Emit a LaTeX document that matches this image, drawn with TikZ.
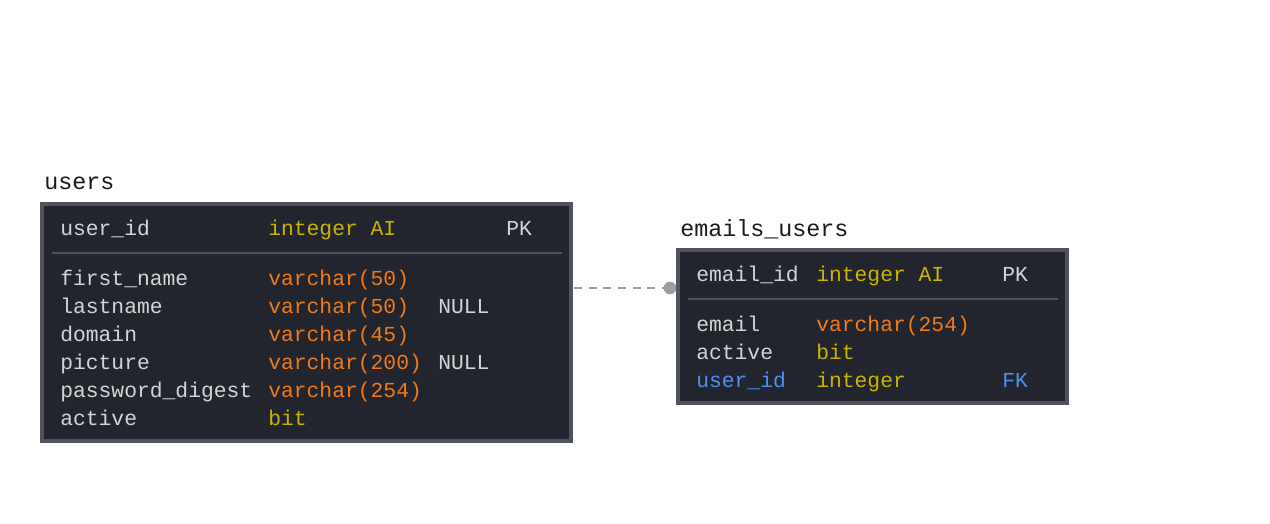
\documentclass[tikz,border=0pt]{standalone}
\usepackage{fontspec}
\setmonofont{Liberation Mono}
\definecolor{bg}{HTML}{22252D}
\definecolor{bd}{HTML}{50535E}
\definecolor{txt}{HTML}{D4D4D4}
\definecolor{org}{HTML}{F07A1E}
\definecolor{ylw}{HTML}{C9B400}
\definecolor{blu}{HTML}{4F8FF0}
\definecolor{con}{HTML}{9A9CA3}
\definecolor{ttl}{HTML}{1A1A1A}
\tikzset{
  tbl/.style={draw=bd,line width=3pt,fill=bg},
  sep/.style={draw=bd,line width=1.5pt},
  cell/.style={anchor=base west,inner sep=0pt,font=\ttfamily\fontsize{16}{18}\selectfont},
  fld/.style={cell,text=txt},
  typo/.style={cell,text=org},
  typy/.style={cell,text=ylw},
  fk/.style={cell,text=blu},
  title/.style={anchor=base west,inner sep=0pt,text=ttl,font=\ttfamily\fontsize{17.5}{20}\selectfont},
  conn/.style={draw=con,line width=1.5pt,dash pattern=on 6pt off 5pt},
}
\begin{document}
\begin{tikzpicture}[x=0.75pt,y=-0.75pt]
\useasboundingbox (0,0) rectangle (1270,524);
% users table
\node[title] (t1) at (44,190) {users};
\path[tbl] (42,204) rectangle (571,441);
\node[inner sep=0pt,minimum width=533,minimum height=241] (users) at (306.5,322.5) {};
\draw[sep] (52,253) -- (562,253);
\node[fld] (u1a) at (60,235) {user\_id};
\node[typy] (u1b) at (268,235) {integer AI};
\node[fld] (u1c) at (506,235) {PK};
\node[fld] (u2a) at (60,285) {first\_name};
\node[typo] (u2b) at (268,285) {varchar(50)};
\node[fld] (u3a) at (60,313) {lastname};
\node[typo] (u3b) at (268,313) {varchar(50)};
\node[fld] (u3c) at (438,313) {NULL};
\node[fld] (u4a) at (60,341) {domain};
\node[typo] (u4b) at (268,341) {varchar(45)};
\node[fld] (u5a) at (60,369) {picture};
\node[typo] (u5b) at (268,369) {varchar(200)};
\node[fld] (u5c) at (438,369) {NULL};
\node[fld] (u6a) at (60,397) {password\_digest};
\node[typo] (u6b) at (268,397) {varchar(254)};
\node[fld] (u7a) at (60,425) {active};
\node[typy] (u7b) at (268,425) {bit};
% emails_users table
\node[title] (t2) at (680,236) {emails\_users};
\path[tbl] (678,250) rectangle (1067,403);
\node[inner sep=0pt,minimum width=393,minimum height=157] (emails) at (872.5,326.5) {};
\draw[sep] (688,299) -- (1058,299);
\node[fld] (e1a) at (696,281) {email\_id};
\node[typy] (e1b) at (816,281) {integer AI};
\node[fld] (e1c) at (1002,281) {PK};
\node[fld] (e2a) at (696,331) {email};
\node[typo] (e2b) at (816,331) {varchar(254)};
\node[fld] (e3a) at (696,359) {active};
\node[typy] (e3b) at (816,359) {bit};
\node[fk] (e4a) at (696,387) {user\_id};
\node[typy] (e4b) at (816,387) {integer};
\node[fk] (e4c) at (1002,387) {FK};
% connector
\coordinate (cs) at (574,288);
\coordinate (ce) at (670,288);
\draw[conn] (cs) -- (ce);
\fill[con] (ce) circle (4.75pt);
\end{tikzpicture}
\end{document}
